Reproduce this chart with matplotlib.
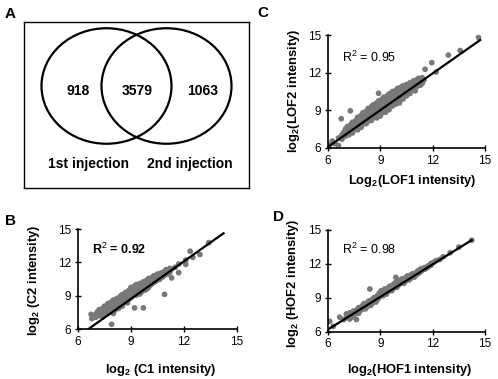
import numpy as np
import matplotlib
matplotlib.use("Agg")
import matplotlib.pyplot as plt
from matplotlib.patches import Ellipse

plt.rcParams["font.family"] = ["Liberation Sans", "DejaVu Sans"]
plt.rcParams["mathtext.fontset"] = "custom"
plt.rcParams["mathtext.rm"] = "Liberation Sans"
plt.rcParams["mathtext.bf"] = "Liberation Sans:bold"
plt.rcParams["mathtext.it"] = "Liberation Sans:italic"

# Venn counts
venn_counts = [918, 3579, 1063]
venn_labels = ["1st injection", "2nd injection"]

# scatter data
c_points = [(7.0, 7.30), (7.0, 7.05), (7.1, 7.55), (7.2, 7.20), (7.2, 7.75), (7.3, 7.45),
            (7.4, 7.10), (7.4, 7.85), (7.5, 7.60), (7.5, 8.05), (7.6, 7.30), (7.7, 7.80),
            (7.7, 8.30), (7.8, 7.50), (7.8, 8.05), (7.9, 6.42), (7.9, 8.45), (7.9, 7.75),
            (8.0, 7.95), (8.0, 8.60), (8.0, 7.40), (8.1, 8.20), (8.1, 7.70), (8.2, 8.75),
            (8.2, 8.00), (8.3, 8.45), (8.3, 7.85), (8.4, 8.95), (8.4, 8.15), (8.5, 8.60),
            (8.5, 9.10), (8.5, 8.05), (8.6, 8.35), (8.6, 8.85), (8.7, 9.30), (8.7, 8.55),
            (8.8, 8.95), (8.8, 8.35), (8.9, 9.50), (8.9, 9.10), (8.9, 8.70), (9.0, 9.30),
            (9.0, 8.85), (9.0, 9.75), (9.1, 9.55), (9.1, 9.00), (9.2, 7.90), (9.2, 9.85),
            (9.2, 9.20), (9.3, 9.45), (9.3, 9.05), (9.3, 10.00), (9.4, 9.70), (9.4, 9.25),
            (9.5, 10.10), (9.5, 9.50), (9.5, 9.15), (9.6, 9.85), (9.6, 9.35), (9.7, 7.90),
            (9.7, 10.25), (9.7, 9.60), (9.8, 10.00), (9.8, 9.50), (9.9, 10.40), (9.9, 9.80),
            (9.9, 9.60), (10.0, 10.15), (10.0, 10.55), (10.0, 9.75), (10.1, 10.35), (10.1, 9.95),
            (10.2, 10.65), (10.2, 10.10), (10.3, 10.45), (10.3, 10.20), (10.3, 10.80), (10.4, 10.65),
            (10.4, 10.30), (10.5, 10.95), (10.5, 10.50), (10.6, 10.75), (10.6, 10.45), (10.7, 11.05),
            (10.7, 10.60), (10.8, 10.90), (10.8, 10.70), (10.9, 9.12), (10.9, 11.20), (10.9, 10.85),
            (11.0, 11.05), (11.0, 11.35), (11.1, 10.95), (11.1, 11.30), (11.2, 11.45), (11.2, 11.10),
            (11.3, 10.60), (11.3, 11.40), (11.5, 11.55), (11.7, 11.07), (11.7, 11.85), (12.1, 11.82),
            (12.1, 12.20), (12.35, 13.00), (12.5, 12.45), (12.9, 12.70), (13.4, 13.77),
            (6.74, 7.32), (6.78, 6.93), (7.06, 7.23), (7.35, 7.65), (7.65, 7.55), (8.25, 8.25),
            (8.55, 8.35), (8.95, 9.15), (9.25, 9.55), (9.65, 9.95), (10.25, 10.40), (10.65, 10.85)]

lof_points = [(6.1, 6.25), (6.25, 6.55), (6.4, 6.35), (6.6, 6.20), (6.6, 6.80), (6.76, 8.33),
              (6.8, 7.05), (6.8, 6.70), (6.9, 7.25), (7.0, 6.95), (7.0, 7.50), (7.1, 7.25),
              (7.1, 7.70), (7.2, 7.05), (7.2, 7.55), (7.28, 8.96), (7.3, 7.85), (7.3, 7.35),
              (7.4, 7.60), (7.4, 8.05), (7.4, 7.20), (7.5, 7.85), (7.5, 7.45), (7.6, 8.20),
              (7.6, 7.65), (7.7, 7.45), (7.7, 8.00), (7.7, 8.45), (7.8, 7.80), (7.8, 8.25),
              (7.9, 8.60), (7.9, 7.65), (7.9, 8.10), (8.0, 8.35), (8.0, 7.90), (8.0, 8.80),
              (8.1, 8.05), (8.1, 8.55), (8.2, 8.95), (8.2, 8.30), (8.2, 7.95), (8.3, 8.65),
              (8.3, 8.15), (8.3, 9.15), (8.4, 8.45), (8.4, 8.90), (8.5, 9.30), (8.5, 8.20),
              (8.5, 8.70), (8.6, 8.95), (8.6, 8.45), (8.6, 9.45), (8.7, 8.70), (8.7, 9.20),
              (8.8, 9.60), (8.8, 8.40), (8.8, 9.00), (8.9, 10.36), (8.9, 9.30), (8.9, 8.75),
              (8.9, 9.75), (9.0, 8.55), (9.0, 9.05), (9.0, 9.55), (9.1, 9.90), (9.1, 9.25),
              (9.1, 8.80), (9.2, 9.65), (9.2, 9.05), (9.2, 10.05), (9.3, 8.85), (9.3, 9.40),
              (9.3, 9.85), (9.4, 10.15), (9.4, 9.20), (9.4, 9.60), (9.5, 9.95), (9.5, 9.05),
              (9.5, 10.30), (9.6, 9.45), (9.6, 9.80), (9.6, 10.35), (9.7, 10.05), (9.7, 9.35),
              (9.7, 10.50), (9.8, 9.65), (9.8, 10.25), (9.9, 10.60), (9.9, 9.50), (9.9, 10.00),
              (10.0, 10.30), (10.0, 9.75), (10.0, 10.75), (10.1, 10.05), (10.1, 10.55), (10.1, 9.60),
              (10.2, 10.85), (10.2, 10.25), (10.3, 9.90), (10.3, 10.55), (10.3, 10.95), (10.4, 10.30),
              (10.4, 10.75), (10.5, 11.05), (10.5, 10.15), (10.5, 10.60), (10.6, 10.85), (10.6, 10.45),
              (10.7, 11.20), (10.7, 10.35), (10.7, 10.70), (10.8, 10.95), (10.8, 10.60), (10.9, 11.35),
              (10.9, 10.80), (11.0, 11.10), (11.0, 10.55), (11.1, 11.45), (11.1, 10.90), (11.2, 11.20),
              (11.2, 11.55), (11.3, 11.00), (11.3, 11.35), (11.4, 11.60), (11.4, 11.15), (11.5, 11.40),
              (11.57, 12.27), (11.95, 12.80), (12.2, 12.05), (12.9, 13.40), (13.58, 13.76),
              (14.63, 14.80), (7.55, 7.95), (8.05, 8.60), (8.45, 9.05), (8.75, 9.40), (9.15, 9.45),
              (9.55, 9.60), (9.85, 10.40), (10.25, 10.65), (10.65, 11.00), (11.05, 11.25)]

hof_points = [(6.1, 6.90), (6.3, 6.45), (6.67, 7.26), (6.9, 7.05), (7.05, 7.55), (7.05, 7.20),
              (7.15, 7.35), (7.25, 7.65), (7.25, 7.10), (7.35, 7.45), (7.45, 7.80), (7.45, 7.30),
              (7.55, 7.55), (7.63, 7.06), (7.65, 7.90), (7.65, 7.70), (7.75, 7.60), (7.75, 8.10),
              (7.85, 7.85), (7.95, 8.25), (7.95, 7.95), (8.05, 8.10), (8.05, 8.45), (8.15, 8.00),
              (8.15, 8.30), (8.25, 8.55), (8.25, 8.20), (8.35, 8.40), (8.35, 8.70), (8.40, 9.75),
              (8.45, 8.30), (8.45, 8.60), (8.55, 8.85), (8.55, 8.50), (8.65, 8.70), (8.65, 9.00),
              (8.75, 8.60), (8.75, 8.95), (8.85, 9.20), (8.85, 8.85), (8.95, 9.05), (8.95, 9.40),
              (9.05, 9.30), (9.05, 9.60), (9.15, 9.15), (9.15, 9.50), (9.25, 9.75), (9.25, 9.40),
              (9.35, 9.60), (9.35, 9.30), (9.45, 9.85), (9.45, 9.55), (9.55, 9.70), (9.55, 10.00),
              (9.65, 9.60), (9.65, 9.90), (9.75, 10.15), (9.75, 9.80), (9.85, 10.00), (9.85, 10.30),
              (9.89, 10.78), (9.95, 9.90), (9.95, 10.20), (10.05, 10.40), (10.05, 10.10), (10.15, 10.25),
              (10.15, 10.55), (10.25, 10.35), (10.25, 10.65), (10.35, 10.50), (10.35, 10.25), (10.45, 10.75),
              (10.45, 10.45), (10.55, 10.60), (10.55, 10.90), (10.65, 10.75), (10.65, 10.55), (10.75, 11.00),
              (10.75, 10.70), (10.85, 10.85), (10.85, 11.10), (10.95, 11.05), (10.95, 10.80), (11.05, 11.20),
              (11.05, 11.00), (11.15, 11.35), (11.15, 11.10), (11.25, 11.20), (11.25, 11.45), (11.35, 11.55),
              (11.35, 11.35), (11.45, 11.45), (11.55, 11.65), (11.55, 11.50), (11.65, 11.60), (11.75, 11.80),
              (11.75, 11.70), (11.9, 11.85), (11.9, 12.00), (12.05, 12.10), (12.2, 12.25), (12.4, 12.35),
              (12.6, 12.60), (13.0, 12.95), (13.5, 13.45), (14.24, 14.05)]

# regression lines: slope, intercept, x start, x end
c_fit = (1.127, -1.43, 6.59, 14.24)
lof_fit = (0.976, 0.23, 6.0, 14.72)
hof_fit = (0.957, 0.44, 6.0, 14.24)

r2_values = ["0.92", "0.95", "0.98"]
ticks = [6, 9, 12, 15]

W, H = 498, 379
fig = plt.figure(figsize=(W / 100, H / 100), dpi=100)


def box(l, t, r, b):
    return [l / W, 1 - b / H, (r - l) / W, (b - t) / H]


def ftext(x, y, s, **kw):
    fig.text(x / W, 1 - y / H, s, **kw)


# ---- panel A: Venn diagram
axA = fig.add_axes(box(23.5, 22, 249, 188))
axA.set_xlim(23.5, 249)
axA.set_ylim(188, 22)
axA.set_xticks([])
axA.set_yticks([])
for sp in axA.spines.values():
    sp.set_linewidth(1.0)
axA.add_patch(Ellipse((106.5, 86), 130, 115.5, fill=False, lw=1.6, ec="black"))
axA.add_patch(Ellipse((166.5, 86), 130, 115.5, fill=False, lw=1.6, ec="black"))
for xc, v in zip([78, 137.5, 203], venn_counts):
    axA.text(xc, 91, str(v), ha="center", va="center", fontsize=10, fontweight="bold")
for xc, lab in zip([88, 190], venn_labels):
    axA.text(xc, 164, lab, ha="center", va="center", fontsize=10, fontweight="bold")


def scatter_panel(rect, pts, fit, r2, r2_bold):
    ax = fig.add_axes(box(*rect))
    xs = [p[0] for p in pts]
    ys = [p[1] for p in pts]
    ax.scatter(xs, ys, s=17, color="#787878", edgecolors="none", zorder=2)
    m, b, x0, x1 = fit
    lx = np.array([x0, x1])
    ax.plot(lx, m * lx + b, color="black", lw=1.6, zorder=3)
    ax.set_xlim(6, 15)
    ax.set_ylim(6, 15)
    ax.set_xticks(ticks)
    ax.set_yticks(ticks)
    ax.tick_params(direction="inout", length=4, width=1, labelsize=8.5, pad=3)
    for s in ["top", "right"]:
        ax.spines[s].set_visible(False)
    for s in ["left", "bottom"]:
        ax.spines[s].set_linewidth(1.2)
    ax.text(0.088, 0.80, "R$^2$ = " + r2, transform=ax.transAxes, fontsize=9,
            fontweight="bold" if r2_bold else "normal", va="center")
    return ax


scatter_panel((78, 229, 237, 329), c_points, c_fit, r2_values[0], True)
scatter_panel((328, 35, 485, 148), lof_points, lof_fit, r2_values[1], False)
scatter_panel((328, 229.5, 485, 331.5), hof_points, hof_fit, r2_values[2], False)

# axis labels
lab_kw = dict(ha="center", va="center", fontsize=9.3, fontweight="bold")
ftext(161, 370, r"log$_{\mathbf{2}}$ (C1 intensity)", **lab_kw)
ftext(34, 280, r"log$_{\mathbf{2}}$ (C2 intensity)", rotation=90, **lab_kw)
ftext(412, 181, r"Log$_{\mathbf{2}}$(LOF1 intensity)", **lab_kw)
ftext(294, 91, r"log$_{\mathbf{2}}$(LOF2 intensity)", rotation=90, **lab_kw)
ftext(410, 370, r"log$_{\mathbf{2}}$(HOF1 intensity)", **lab_kw)
ftext(293, 283, r"log$_{\mathbf{2}}$ (HOF2 intensity)", rotation=90, **lab_kw)

# panel letters
for lx_, ly_, let in [(10, 14, "A"), (263, 13, "C"), (10, 221, "B"), (278, 217, "D")]:
    ftext(lx_, ly_, let, ha="center", va="center", fontsize=11, fontweight="bold")

fig.savefig("out.png", dpi=100)
